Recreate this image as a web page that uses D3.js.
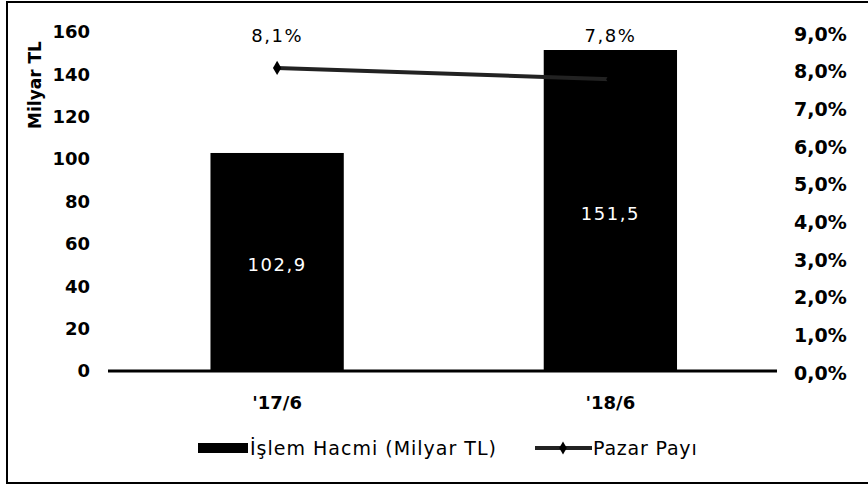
<!DOCTYPE html>
<meta charset="utf-8">
<style>
  body { margin: 0; background-color: #fff; }
  .axis text { font: bold 18px "DejaVu Sans", sans-serif; fill: #000; }
  .axis--right text { font-size: 19px; }
  .axis path, .axis line { display: none; }
</style>
<svg width="868" height="488"></svg>
<script src="https://d3js.org/d3.v7.min.js"></script>
<script>
  var categories = ["'17/6", "'18/6"];
  var volume = [102.9, 151.5];
  var share = [8.1, 7.8];
  var leftTicks = [0, 20, 40, 60, 80, 100, 120, 140, 160];
  var rightTicks = [0, 1, 2, 3, 4, 5, 6, 7, 8, 9];

  var svg = d3.select("svg");
  var comma = function (v, n) { return v.toFixed(n).replace(".", ","); };

  // frame (open on the right like the scan)
  svg.append("path")
    .attr("d", "M868,2H7V483H868")
    .attr("fill", "none").attr("stroke", "#000").attr("stroke-width", 2);

  var x = d3.scaleBand().domain(categories).range([110.5, 777]).paddingInner(0.6).paddingOuter(0.3),
    y = d3.scaleLinear().domain([0, 160]).range([371, 32]),
    y2 = d3.scaleLinear().domain([0, 9]).range([373, 34]);

  // left axis
  svg.append("g")
    .attr("class", "axis")
    .attr("transform", "translate(90,0)")
    .call(d3.axisLeft(y).tickValues(leftTicks).tickSize(0).tickPadding(0));

  // right axis
  svg.append("g")
    .attr("class", "axis axis--right")
    .attr("transform", "translate(794,0)")
    .call(d3.axisRight(y2).tickValues(rightTicks).tickSize(0).tickPadding(0)
      .tickFormat(function (d) { return comma(d, 1) + "%"; }));

  svg.append("text")
    .attr("transform", "translate(41,85) rotate(-90)")
    .attr("text-anchor", "middle")
    .style("font", "bold 17px 'DejaVu Sans', sans-serif")
    .text("Milyar TL");

  // bars
  svg.selectAll(".bar")
    .data(volume)
    .enter().append("rect")
    .attr("x", function (d, i) { return x(categories[i]); })
    .attr("y", function (d) { return y(d); })
    .attr("width", x.bandwidth())
    .attr("height", function (d) { return y(0) - y(d); })
    .attr("fill", "#000");

  svg.selectAll(".barlabel")
    .data(volume)
    .enter().append("text")
    .attr("x", function (d, i) { return x(categories[i]) + x.bandwidth() / 2; })
    .attr("y", function (d) { return (y(d) + y(0)) / 2 + 9; })
    .attr("text-anchor", "middle")
    .attr("fill", "#fff")
    .style("font", "18px 'DejaVu Sans', sans-serif")
    .style("letter-spacing", "1.5px")
    .text(function (d) { return comma(d, 1); });

  // baseline
  svg.append("line")
    .attr("x1", 108).attr("x2", 777)
    .attr("y1", y(0)).attr("y2", y(0))
    .attr("stroke", "#000").attr("stroke-width", 3);

  // x labels
  svg.selectAll(".xlabel")
    .data(categories)
    .enter().append("text")
    .attr("x", function (d) { return x(d) + x.bandwidth() / 2; })
    .attr("y", 409)
    .attr("text-anchor", "middle")
    .style("font", "bold 18px 'DejaVu Sans', sans-serif")
    .text(function (d) { return d; });

  // share line
  var line = d3.line()
    .x(function (d, i) { return x(categories[i]) + x.bandwidth() / 2; })
    .y(function (d) { return y2(d); });

  svg.append("path")
    .datum(share)
    .attr("d", line)
    .attr("fill", "none")
    .attr("stroke", "#222")
    .attr("stroke-width", 4);

  svg.selectAll(".marker")
    .data(share)
    .enter().append("path")
    .attr("d", d3.symbol().type(d3.symbolDiamond).size(60))
    .attr("transform", function (d, i) {
      return "translate(" + (x(categories[i]) + x.bandwidth() / 2) + "," + y2(d) + ")";
    })
    .attr("fill", "#000");

  svg.selectAll(".sharelabel")
    .data(share)
    .enter().append("text")
    .attr("x", function (d, i) { return x(categories[i]) + x.bandwidth() / 2; })
    .attr("y", 42)
    .attr("text-anchor", "middle")
    .style("font", "18px 'DejaVu Sans', sans-serif")
    .style("letter-spacing", "1.5px")
    .text(function (d) { return comma(d, 1) + "%"; });

  // legend
  var lg = svg.append("g").attr("transform", "translate(0,448)");
  lg.append("rect").attr("x", 198).attr("y", -5).attr("width", 50).attr("height", 10).attr("fill", "#000");
  lg.append("text").attr("x", 250).attr("y", 7)
    .style("font", "19px 'DejaVu Sans', sans-serif")
    .style("letter-spacing", "1px")
    .text("İşlem Hacmi (Milyar TL)");
  lg.append("line").attr("x1", 535).attr("x2", 592).attr("y1", 0).attr("y2", 0)
    .attr("stroke", "#222").attr("stroke-width", 4);
  lg.append("path").attr("d", d3.symbol().type(d3.symbolDiamond).size(50))
    .attr("transform", "translate(563,0)").attr("fill", "#000");
  lg.append("text").attr("x", 593).attr("y", 7)
    .style("font", "19px 'DejaVu Sans', sans-serif")
    .style("letter-spacing", "0.8px")
    .text("Pazar Payı");
</script>
